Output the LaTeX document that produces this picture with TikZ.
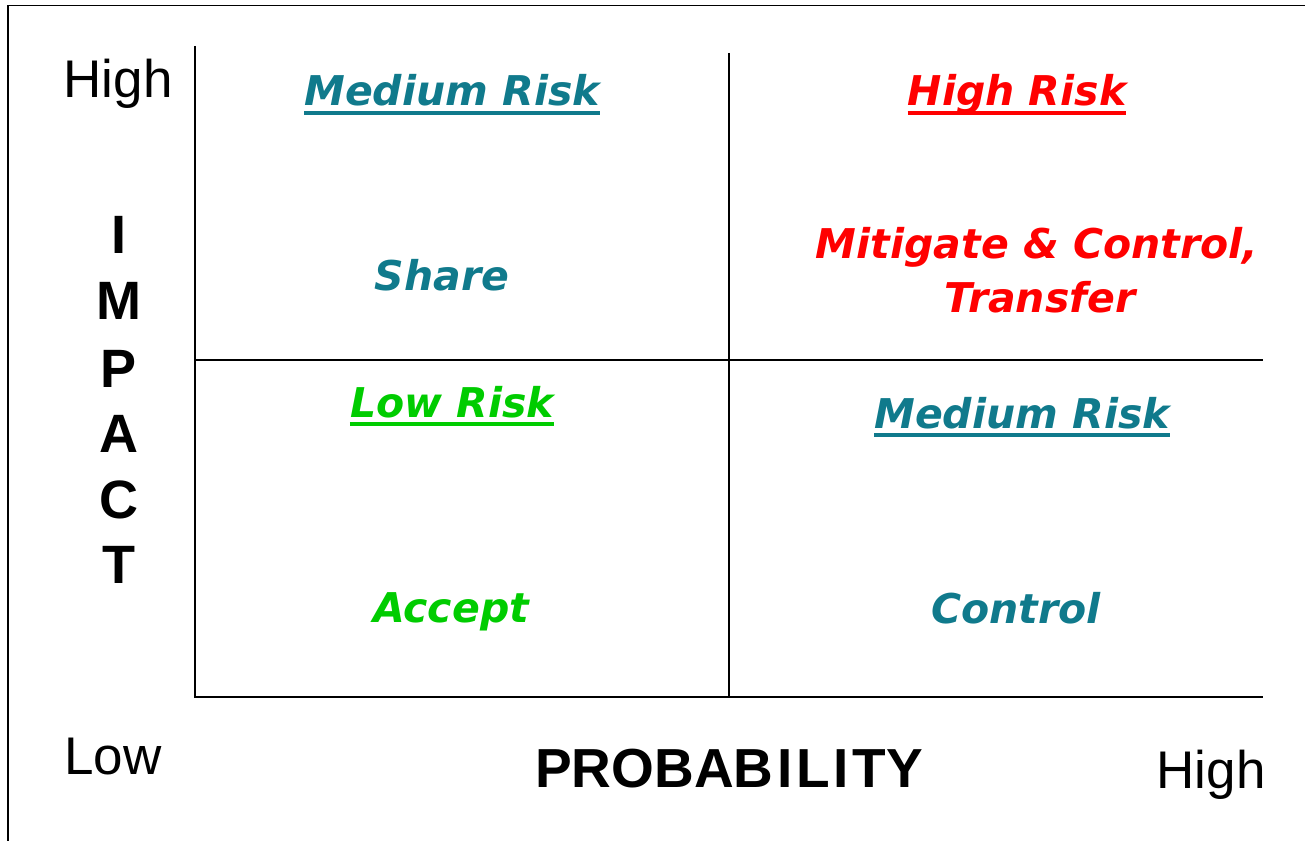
\documentclass[tikz,border=0pt]{standalone}
\usepackage{fontspec}
\newfontfamily\riskfont{DejaVu Sans}
\newfontfamily\axisfont{Liberation Sans}
\definecolor{tealrisk}{RGB}{16,122,140}
\definecolor{greenrisk}{RGB}{0,204,0}
\definecolor{redrisk}{RGB}{255,0,0}
\tikzset{
  risk/.style={inner sep=0pt, anchor=base, font=\riskfont\bfseries\itshape\fontsize{41}{54}\selectfont},
  axislbl/.style={inner sep=0pt, anchor=base, font=\axisfont\fontsize{53}{60}\selectfont},
  axisbold/.style={inner sep=0pt, anchor=base, font=\axisfont\bfseries\fontsize{54}{60}\selectfont},
  gridline/.style={line width=2pt, black},
}
\begin{document}
\begin{tikzpicture}[x=1pt,y=-1pt]
\useasboundingbox (0,0) rectangle (1305,840);
\fill[white] (0,0) rectangle (1305,840);
% frame
\draw[line width=1.5pt] (8,845) -- (8,5.5) -- (1310,5.5);
% grid
\coordinate (ytop) at (195,46);
\coordinate (origin) at (195,697);
\coordinate (xend) at (1263,697);
\coordinate (mtop) at (729,53);
\coordinate (mbot) at (729,697);
\coordinate (hl) at (195,360);
\coordinate (hr) at (1263,360);
\draw[gridline] (ytop) -- (origin) -- (xend);
\draw[gridline] (mtop) -- (mbot);
\draw[gridline] (hl) -- (hr);
% axis labels
\node[axislbl] (hhigh) at (118,98) {High};
\node[axislbl] (llow) at (113,774) {Low};
\node[axislbl] (rhigh) at (1211,788) {High};
\node[axisbold, font=\axisfont\bfseries\fontsize{55}{60}\selectfont] (prob) at (729,787) {PROBAB\kern4ptI\kern4ptL\kern3ptI\kern4ptTY};
\foreach \l/\yy [count=\i] in {I/253,M/319,P/387,A/452,C/518,T/583}{
  \node[axisbold] (imp\i) at (119,\yy) {\l};
}
% quadrant texts
\node[risk, text=tealrisk] (mr1) at (452,106) {Medium Risk};
\node[risk, text=redrisk] (hr1) at (1017,106) {High Risk};
\node[risk, text=tealrisk] (share) at (442,290) {Share};
\node[risk, text=redrisk] (mit1) at (1037,258) {Mitigate \& Control,};
\node[risk, text=redrisk] (mit2) at (1040,312) {Transfer};
\node[risk, text=greenrisk] (lr) at (452,417) {Low Risk};
\node[risk, text=tealrisk] (mr2) at (1022,428) {Medium Risk};
\node[risk, text=greenrisk] (acc) at (451,622) {Accept};
\node[risk, text=tealrisk] (ctl) at (1016,623) {Control};
% underlines
\foreach \n/\c in {mr1/tealrisk,hr1/redrisk,lr/greenrisk,mr2/tealrisk}{
  \draw[line width=4pt, \c] ([yshift=-7pt]\n.base west) -- ([yshift=-7pt]\n.base east);
}
\end{tikzpicture}
\end{document}
